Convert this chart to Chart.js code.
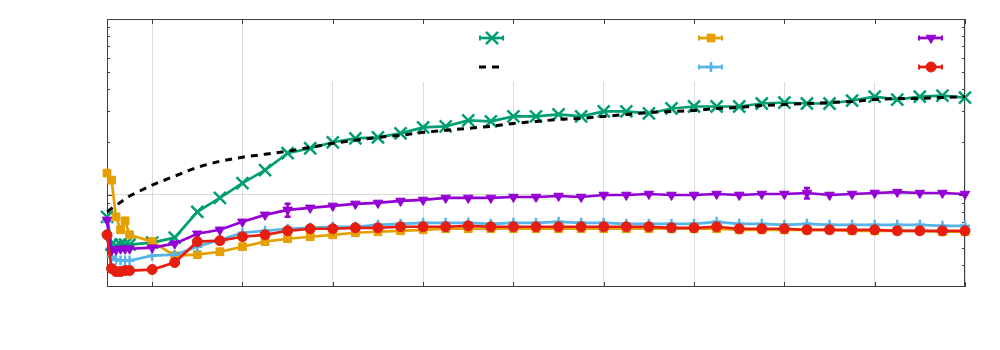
<!DOCTYPE html>
<html>
<head>
<meta charset="utf-8">
<script src="https://cdn.jsdelivr.net/npm/chart.js@4.4.1/dist/chart.umd.min.js"></script>
<style>
  html, body { margin: 0; padding: 0; background: #fff; }
  #wrap { width: 1000px; height: 350px; }
</style>
</head>
<body>
<div id="wrap"><canvas id="chart" width="1000" height="350"></canvas></div>
<script>
// sample positions (x) shared by the marked series
const xs = [0, 0.2, 0.4, 0.6, 0.8, 1,
    2, 3, 4, 5, 6, 7, 8, 9, 10, 11, 12, 13, 14, 15, 16, 17, 18, 19, 20,
    21, 22, 23, 24, 25, 26, 27, 28, 29, 30, 31, 32, 33, 34, 35, 36, 37, 38];
// x for the dashed reference curve
const dashX = [0, 0.5, 1,
    2, 3, 4, 5, 6, 7, 8, 9, 10, 11, 12, 13, 14, 15, 16, 17, 18, 19, 20,
    21, 22, 23, 24, 25, 26, 27, 28, 29, 30, 31, 32, 33, 34, 35, 36, 37, 38];

const green = [0.751, 0.522, 0.515, 0.522, 0.522, 0.522,
    0.536, 0.572, 0.802, 0.962, 1.169, 1.384, 1.727, 1.843, 1.993, 2.099, 2.127, 2.240, 2.422, 2.454,
    2.653, 2.619, 2.795, 2.795, 2.869, 2.795, 2.983, 2.983, 2.906, 3.101, 3.183, 3.183, 3.183, 3.310,
    3.353, 3.310, 3.310, 3.441, 3.625, 3.486, 3.625, 3.673, 3.578];
const dashed = [0.802, 0.890, 0.987,
    1.139, 1.280, 1.439, 1.556, 1.640, 1.705, 1.773, 1.867, 1.967, 2.045, 2.127, 2.183, 2.270, 2.329,
    2.391, 2.454, 2.551, 2.619, 2.688, 2.723, 2.795, 2.869, 2.944, 2.983, 3.022, 3.101, 3.142, 3.225,
    3.267, 3.310, 3.353, 3.397, 3.486, 3.532, 3.532, 3.578, 3.625];
const orange = [1.331, 1.215, 0.751, 0.634, 0.713, 0.594,
    0.543, 0.452, 0.458, 0.476, 0.508, 0.543, 0.564, 0.579, 0.594, 0.610, 0.618, 0.626, 0.634,
    0.643, 0.643, 0.643, 0.643, 0.643, 0.643, 0.643, 0.643, 0.643, 0.643, 0.643, 0.643, 0.643,
    0.634, 0.634, 0.634, 0.634, 0.634, 0.626, 0.626, 0.626, 0.626, 0.618, 0.618];
const skyblue = [0.704, 0.446, 0.429, 0.424, 0.424, 0.424,
    0.452, 0.458, 0.508, 0.557, 0.610, 0.626, 0.643, 0.651, 0.660, 0.660, 0.677, 0.686, 0.695,
    0.695, 0.695, 0.686, 0.695, 0.695, 0.704, 0.695, 0.695, 0.686, 0.686, 0.686, 0.686, 0.704,
    0.686, 0.686, 0.677, 0.686, 0.677, 0.677, 0.677, 0.677, 0.677, 0.668, 0.668];
const purple = [0.722, 0.483, 0.489, 0.495, 0.495, 0.495,
    0.502, 0.529, 0.602, 0.634, 0.704, 0.771, 0.823, 0.845, 0.867, 0.890, 0.901, 0.925, 0.937,
    0.962, 0.962, 0.962, 0.974, 0.974, 0.987, 0.974, 1.000, 1.000, 1.013, 1.000, 1.000, 1.013,
    1.000, 1.013, 1.013, 1.026, 1.000, 1.013, 1.026, 1.039, 1.026, 1.026, 1.013];
const red = [0.594, 0.382, 0.367, 0.367, 0.372, 0.372,
    0.377, 0.413, 0.543, 0.550, 0.579, 0.594, 0.626, 0.643, 0.643, 0.651, 0.651, 0.660, 0.660,
    0.660, 0.668, 0.660, 0.660, 0.660, 0.660, 0.660, 0.660, 0.660, 0.660, 0.651, 0.651, 0.660,
    0.643, 0.643, 0.643, 0.634, 0.634, 0.634, 0.634, 0.626, 0.626, 0.626, 0.626];
// the few visible error bars (purple series)
const purpleErrX = [8, 31];
const purpleErr = [0.07, 0.07];

const xTicks = [2, 6, 10, 14, 18, 22, 26, 30, 34, 38];
const yTicks = [0.4, 0.5, 0.6, 0.7, 0.8, 0.9, 1, 2, 3, 4, 5, 6, 7, 8, 9, 10];
const yMajor = [1, 10];

const pts = (xv, yv) => yv.map((y, i) => ({ x: xv[i], y: y }));

function series(label, data, color, style, radius, extra) {
    return Object.assign({
        label: label,
        data: data,
        borderColor: color,
        backgroundColor: color,
        borderWidth: 2.7,
        pointStyle: style,
        pointRadius: radius,
        pointBorderWidth: 2.5,
        pointBackgroundColor: color,
        pointBorderColor: color,
        tension: 0,
        clip: false,
    }, extra || {});
}

const datasets = [
    series('green', pts(xs, green), '#009e73', 'crossRot', 8.5),
    series('dashed', pts(dashX, dashed), '#000000', false, 0, { borderWidth: 3, borderDash: [7, 6] }),
    series('orange', pts(xs, orange), '#e69f00', 'rect', 5.5, { pointBorderWidth: 1 }),
    series('skyblue', pts(xs, skyblue), '#56b4e9', 'cross', 5),
    series('purple', pts(xs, purple), '#9400d3', 'triangle', 5.5, { pointRotation: 180, pointBorderWidth: 1 }),
    series('red', pts(xs, red), '#e51e10', 'circle', 5, { pointBorderWidth: 1 }),
];
// later entries are painted on top, as in the original
datasets.forEach((d, i) => { d.order = datasets.length - i; });

// key layout: column-major, two rows
const keyCols = [492, 711, 931];
const keyRows = [38, 67];

const framePlugin = {
    id: 'frame',
    beforeDraw(chart) {
        const ctx = chart.ctx;
        ctx.save();
        ctx.fillStyle = '#fff';
        ctx.fillRect(0, 0, chart.width, chart.height);
        ctx.restore();
    },
    beforeDatasetsDraw(chart) {
        const ctx = chart.ctx;
        const a = chart.chartArea;
        const xs_ = chart.scales.x, ys_ = chart.scales.y;
        ctx.save();
        // opaque key box
        ctx.fillStyle = '#fff';
        ctx.fillRect(300, a.top, a.right - 300, 82 - a.top);

        ctx.strokeStyle = '#404040';
        ctx.lineWidth = 1;
        ctx.beginPath();
        xTicks.forEach(v => {
            const px = Math.round(xs_.getPixelForValue(v)) + 0.5;
            ctx.moveTo(px, a.bottom); ctx.lineTo(px, a.bottom - 5);
            ctx.moveTo(px, a.top); ctx.lineTo(px, a.top + 5);
        });
        yTicks.forEach(v => {
            const py = Math.round(ys_.getPixelForValue(v)) + 0.5;
            const len = yMajor.includes(v) ? 6 : 3;
            ctx.moveTo(a.left, py); ctx.lineTo(a.left + len, py);
            ctx.moveTo(a.right, py); ctx.lineTo(a.right - len, py);
        });
        ctx.stroke();
        ctx.strokeRect(Math.round(a.left) + 0.5, Math.round(a.top) + 0.5,
            Math.round(a.right - a.left) - 1, Math.round(a.bottom - a.top) - 1);

        // error bars
        ctx.strokeStyle = '#9400d3';
        ctx.lineWidth = 2.5;
        ctx.beginPath();
        purpleErrX.forEach((xv, k) => {
            const i = xs.indexOf(xv);
            const px = xs_.getPixelForValue(xv);
            const y1 = ys_.getPixelForValue(purple[i] + purpleErr[k]);
            const y2 = ys_.getPixelForValue(purple[i] - purpleErr[k]);
            ctx.moveTo(px, y1); ctx.lineTo(px, y2);
            ctx.moveTo(px - 3, y1); ctx.lineTo(px + 3, y1);
            ctx.moveTo(px - 3, y2); ctx.lineTo(px + 3, y2);
        });
        ctx.stroke();
        ctx.restore();
    },
    afterDraw(chart) {
        const ctx = chart.ctx;
        ctx.save();
        chart.data.datasets.forEach((d, i) => {
            const cx = keyCols[Math.floor(i / 2)];
            const cy = keyRows[i % 2];
            ctx.strokeStyle = d.borderColor;
            ctx.lineWidth = d.borderWidth;
            ctx.setLineDash(d.borderDash || []);
            ctx.beginPath();
            ctx.moveTo(cx - 13, cy); ctx.lineTo(cx + 12, cy);
            ctx.stroke();
            ctx.setLineDash([]);
            if (d.pointStyle) {
                ctx.lineWidth = 2;
                ctx.beginPath();
                ctx.moveTo(cx - 12, cy - 2.5); ctx.lineTo(cx - 12, cy + 2.5);
                ctx.moveTo(cx + 11, cy - 2.5); ctx.lineTo(cx + 11, cy + 2.5);
                ctx.stroke();
                ctx.fillStyle = d.borderColor;
                ctx.strokeStyle = d.borderColor;
                ctx.lineWidth = d.pointBorderWidth;
                Chart.helpers.drawPoint(ctx, {
                    pointStyle: d.pointStyle,
                    radius: d.pointRadius,
                    rotation: d.pointRotation || 0,
                    borderWidth: d.pointBorderWidth,
                }, cx, cy);
            }
        });
        ctx.restore();
    }
};

new Chart(document.getElementById('chart'), {
    type: 'line',
    data: { datasets: datasets },
    options: {
        responsive: false,
        animation: false,
        devicePixelRatio: 1,
        layout: { padding: { left: 107, right: 35, top: 19, bottom: 63 } },
        plugins: { legend: { display: false }, tooltip: { enabled: false } },
        scales: {
            x: {
                type: 'linear',
                min: 0,
                max: 38,
                afterBuildTicks: s => { s.ticks = xTicks.map(v => ({ value: v })); },
                ticks: { display: false },
                grid: { color: '#dcdcdc', lineWidth: 1, drawTicks: false },
                border: { display: false },
            },
            y: {
                type: 'logarithmic',
                min: 0.306,
                max: 10,
                afterBuildTicks: s => { s.ticks = yTicks.map(v => ({ value: v })); },
                ticks: { display: false },
                grid: {
                    color: c => (c.tick && c.tick.value === 1) ? '#dcdcdc' : 'rgba(0,0,0,0)',
                    lineWidth: 1,
                    drawTicks: false,
                },
                border: { display: false },
            }
        }
    },
    plugins: [framePlugin]
});
</script>
</body>
</html>
